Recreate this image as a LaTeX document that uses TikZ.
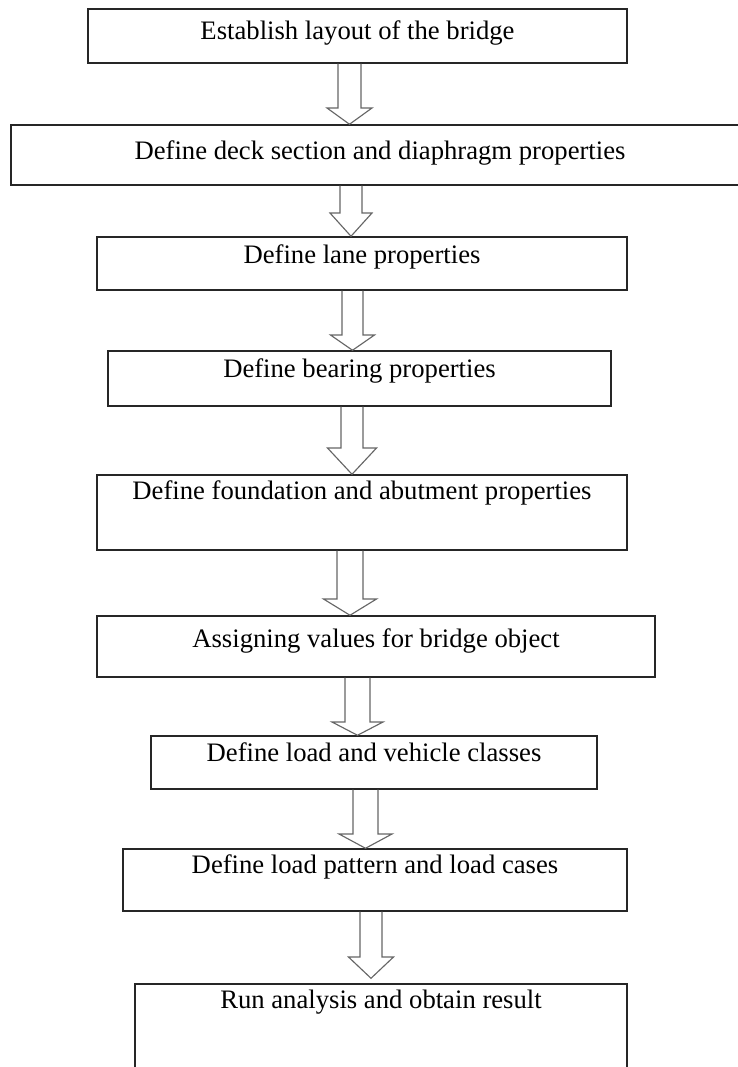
\documentclass[tikz,border=0pt]{standalone}
\usepackage{fontspec}
\setmainfont{Liberation Serif}
\usetikzlibrary{fit,calc}
\tikzset{
  box/.style={draw=black!85, line width=1.1pt, inner sep=0pt},
  lbl/.style={anchor=base, inner sep=0pt, font=\fontsize{20}{24}\selectfont, text=black},
  arrowline/.style={draw=black!60, line width=0.85pt, line join=miter},
}
% #1 start anchor, #2 end anchor, #3 centre x, #4 shaft half width, #5 head half width, #6 head start y
\newcommand\blockarr[6]{%
  \draw[arrowline] ({#3-#4},0 |- #1) -- ({#3-#4},#6) -- ({#3-#5},#6) -- (#3,0 |- #2)
    -- ({#3+#5},#6) -- ({#3+#4},#6) -- ({#3+#4},0 |- #1);}
\begin{document}
\begin{tikzpicture}[x=0.75pt, y=-0.75pt]
\useasboundingbox (0,0) rectangle (738,1067);
\fill[white] (0,0) rectangle (738,1067);

\node[box, fit={(88,9) (627,63)}] (b1) {};
\node[box, fit={(11,125) (749,185)}] (b2) {};
\node[box, fit={(97,237) (627,290)}] (b3) {};
\node[box, fit={(108,351) (611,406)}] (b4) {};
\node[box, fit={(97,475) (627,550)}] (b5) {};
\node[box, fit={(97,616) (655,677)}] (b6) {};
\node[box, fit={(151,736) (597,789)}] (b7) {};
\node[box, fit={(123,849) (627,911)}] (b8) {};
\node[box, fit={(135,984) (627,1085)}] (b9) {};

\node[lbl] (t1) at (b1.north |- 0,39) {Establish layout of the bridge};
\node[lbl] (t2) at (b2.north |- 0,159) {Define deck section and diaphragm properties};
\node[lbl] (t3) at (b3.north |- 0,263) {Define lane properties};
\node[lbl] (t4) at (b4.north |- 0,377) {Define bearing properties};
\node[lbl] (t5) at (b5.north |- 0,499) {Define foundation and abutment properties};
\node[lbl] (t6) at (b6.north |- 0,647) {Assigning values for bridge object};
\node[lbl] (t7) at (b7.north |- 0,761) {Define load and vehicle classes};
\node[lbl] (t8) at (b8.north |- 0,873) {Define load pattern and load cases};
\node[lbl] (t9) at (b9.north |- 0,1008) {Run analysis and obtain result};

\coordinate (e8) at ($(b9.north)+(0,-5)$);

\blockarr{b1.south}{b2.north}{349.5}{11.5}{22.5}{108}
\blockarr{b2.south}{b3.north}{351}{11}{21}{213}
\blockarr{b3.south}{b4.north}{352.5}{10.5}{22}{335}
\blockarr{b4.south}{b5.north}{352}{11}{24.5}{448}
\blockarr{b5.south}{b6.north}{350}{13}{26.5}{599}
\blockarr{b6.south}{b7.north}{357.5}{12.5}{25.5}{722}
\blockarr{b7.south}{b8.north}{365.5}{12.5}{26.5}{834}
\blockarr{b8.south}{e8}{371}{11}{22.5}{957}
\end{tikzpicture}
\end{document}
